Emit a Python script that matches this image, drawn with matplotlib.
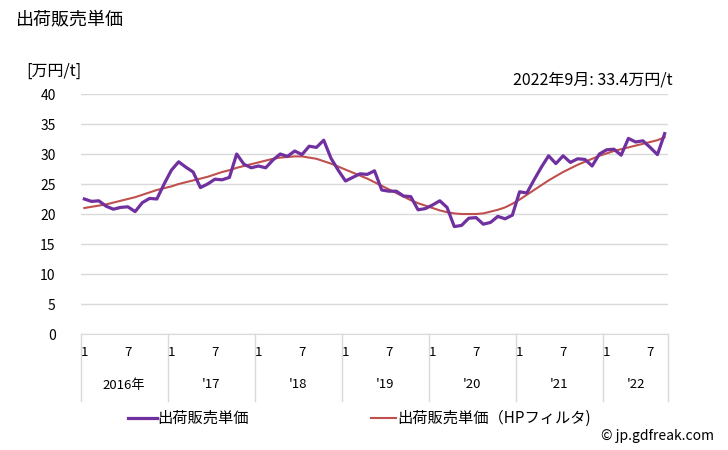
import matplotlib
matplotlib.use("Agg")
import matplotlib.pyplot as plt
from matplotlib.lines import Line2D
import matplotlib.transforms as mtransforms

plt.rcParams['font.family'] = ['Noto Sans CJK JP', 'DejaVu Sans']

# 2016年1月〜2022年9月 (月次)
price = [22.5, 22.1, 22.2, 21.3, 20.8, 21.1, 21.2, 20.4, 21.9, 22.6, 22.5, 25.0,
         27.3, 28.7, 27.8, 27.0, 24.4, 25.0, 25.8, 25.7, 26.1, 30.0, 28.3, 27.7,
         28.0, 27.7, 29.0, 30.0, 29.6, 30.5, 29.9, 31.3, 31.1, 32.3, 29.3, 27.3,
         25.5, 26.1, 26.7, 26.6, 27.2, 24.0, 23.8, 23.8, 23.0, 22.9, 20.7, 20.9,
         21.5, 22.2, 21.1, 17.9, 18.1, 19.3, 19.4, 18.3, 18.6, 19.6, 19.2, 19.8,
         23.7, 23.5, 25.7, 27.8, 29.7, 28.4, 29.7, 28.6, 29.2, 29.1, 28.0, 30.0,
         30.7, 30.8, 29.8, 32.6, 32.0, 32.2, 31.1, 29.9, 33.4]
hp = [21.0, 21.2, 21.4, 21.6, 21.9, 22.2, 22.5, 22.8, 23.2, 23.6, 24.0, 24.3,
      24.6, 25.0, 25.3, 25.6, 25.9, 26.2, 26.6, 27.0, 27.3, 27.7, 28.0, 28.3,
      28.6, 28.9, 29.2, 29.4, 29.5, 29.6, 29.6, 29.4, 29.2, 28.8, 28.4, 27.9,
      27.4, 26.9, 26.4, 25.9, 25.3, 24.7, 24.1, 23.5, 22.9, 22.3, 21.8, 21.4,
      21.0, 20.6, 20.3, 20.1, 20.0, 20.0, 20.0, 20.1, 20.4, 20.7, 21.1, 21.7,
      22.4, 23.2, 24.0, 24.8, 25.6, 26.3, 27.0, 27.6, 28.2, 28.7, 29.2, 29.7,
      30.1, 30.5, 30.8, 31.1, 31.4, 31.7, 32.0, 32.3, 32.8]
year_labels = ['2016年', "'17", "'18", "'19", "'20", "'21", "'22"]
yticks = [0, 5, 10, 15, 20, 25, 30, 35, 40]

fig = plt.figure(figsize=(7.28, 4.5), dpi=100)
ax = fig.add_axes([80.7 / 728, 1 - 334 / 450, 587.6 / 728, 240 / 450])

x = list(range(len(price)))
ax.plot(x, hp, color='#C0504D', linewidth=1.5, zorder=3)
ax.plot(x, price, color='#7030A0', linewidth=2.3, zorder=4)

ax.set_xlim(-0.5, len(price) - 0.5)
ax.set_ylim(0, 40)
ax.set_yticks(yticks)
ax.set_yticklabels([str(v) for v in yticks], fontsize=10)
ax.tick_params(axis='y', length=0, pad=18)
ax.set_xticks([])
ax.grid(axis='y', color='#d9d9d9', linewidth=1)
for s in ['top', 'right', 'left']:
    ax.spines[s].set_visible(False)
ax.spines['bottom'].set_color('#d9d9d9')

# 下側のカテゴリ軸
tr = mtransforms.blended_transform_factory(ax.transData, ax.transAxes)
n = len(price)
bounds = [-0.5] + [11.5 + 12 * k for k in range(6)] + [n - 0.5]
for b in bounds:
    ax.plot([b, b], [0, -67 / 240], color='#d9d9d9', linewidth=1,
            transform=tr, clip_on=False)
for i in range(n):
    m = i % 12 + 1
    if m in (1, 7):
        ax.text(i, -19 / 240, str(m), transform=tr, ha='center', va='center',
                fontsize=9.5)
for k, lab in enumerate(year_labels):
    c = (bounds[k] + bounds[k + 1]) / 2
    ax.text(c, -51 / 240, lab, transform=tr, ha='center', va='center',
            fontsize=9.5)

# テキスト
fig.text(16 / 728, 1 - 19 / 450, '出荷販売単価', fontsize=13, va='center')
fig.text(26 / 728, 1 - 71 / 450, '[万円/t]', fontsize=11.5, va='center')
fig.text(673 / 728, 1 - 80 / 450, '2022年9月: 33.4万円/t', fontsize=11.5,
         ha='right', va='center')
fig.text(714 / 728, 1 - 436 / 450, '© jp.gdfreak.com', fontsize=10,
         ha='right', va='center')

# 凡例
ly = 1 - 418 / 450
fig.add_artist(Line2D([128 / 728, 157 / 728], [ly, ly], color='#7030A0',
                      linewidth=2.3))
fig.text(157 / 728, ly, '出荷販売単価', fontsize=11, va='center')
fig.add_artist(Line2D([371 / 728, 396 / 728], [ly, ly], color='#C0504D',
                      linewidth=1.5))
fig.text(397 / 728, ly, '出荷販売単価（HPフィルタ)', fontsize=11, va='center')

fig.savefig('out.png', dpi=100)
